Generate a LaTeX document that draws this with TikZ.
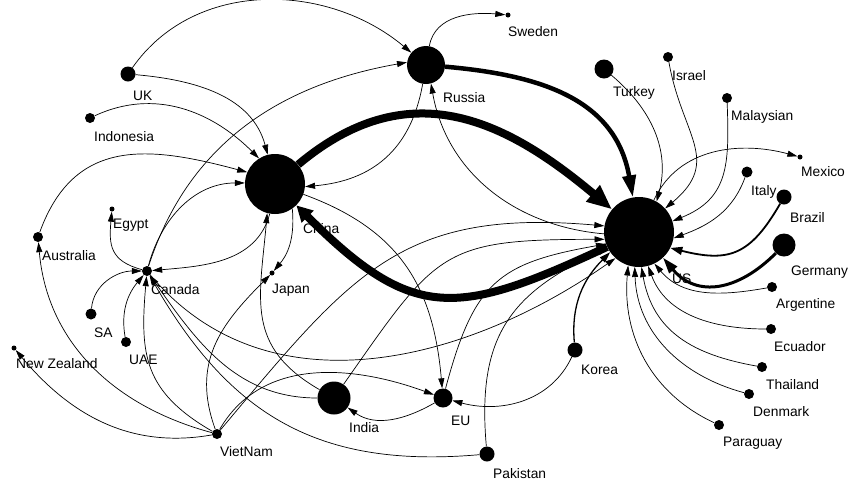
\documentclass[tikz,border=0pt]{standalone}
\usepackage{fontspec}
\setmainfont{Liberation Sans}
\usepackage{tikz}
\usetikzlibrary{arrows.meta}
\colorlet{dotblack}{black}
\colorlet{flowblack}{black}

\begin{document}
\begin{tikzpicture}[x=1pt,y=1pt,
        country/.style={circle,fill=dotblack,inner sep=0pt,minimum size=#1},
        cname/.style={anchor=base west,inner sep=0pt,font=\fontsize{13.8}{16}\selectfont},
        flow/.style={flowblack,line width=0.7pt,-{Triangle[length=10pt,width=6pt]}}]
        \useasboundingbox (0,0) rectangle (848,-483);
        \foreach \n/\x/\y/\d/\lx/\ly/\t in {UK/128/74/15pt/133/100/UK,
            Indonesia/90/118/10pt/94/141.5/Indonesia, Russia/426/65/38pt/443/102/Russia,
            Sweden/508/15/5pt/508/36/Sweden, China/275/184/60pt/303/233/China,
            US/639/232/70pt/672/283/US, Turkey/604/69/19pt/613/96/Turkey,
            Israel/668/57/10pt/672/80/Israel, Malaysian/727/98/10pt/731/120.5/Malaysian,
            Mexico/800/157/5pt/801/176.5/Mexico, Italy/747/172/11pt/751/195/Italy,
            Brazil/784/197/15pt/790/222/Brazil, Germany/784/245/23pt/791/275/Germany,
            Argentine/772/287/10pt/776/308/Argentine, Ecuador/771/329/10pt/774/351.5/Ecuador,
            Thailand/762/367/10pt/766/389.5/Thailand, Denmark/749/394/10pt/753/416.5/Denmark,
            Paraguay/719/425/10pt/723/446.5/Paraguay, Korea/575/350/15pt/581/374/Korea,
            Pakistan/487/454/15pt/493/478/Pakistan, EU/443/398/19pt/451/425/EU,
            India/334/398/33pt/349/432/India, VietNam/217/434/10pt/220/456.5/VietNam,
            Japan/272/273/5pt/272/293.5/Japan, Canada/147/271/10pt/151/294/Canada,
            Egypt/112/209/5pt/113/228.5/Egypt, Australia/38/237/10pt/42/260/Australia,
            SA/91/314/11pt/94/337/SA, UAE/126/342/10pt/129/364/UAE,
            NZ/14/348/5pt/16/368/New Zealand}{
            \node[country=\d] (\n) at (\x,-\y) {};
            \node[cname] (\n-name) at (\lx,-\ly) {\t};
        }
        \foreach \a/\b/\o/\i/\l in {UK/China.104/-5/105/1, Indonesia/China.122/25/135/1,
            Australia/China.157/70/165/1.2, Canada/China.178/75/180/1,
            Canada/Russia.172/72/190/1, UK/Russia.140/55/140/1,
            Russia/Sweden/80/175/1, Russia/China.-5/-100/5/1.1,
            US.183/Russia.-75/175/-80/1, China.-55/Japan/-85/50/1,
            VietNam/Japan/110/225/1.1, China.-100/Canada/-105/5/1,
            China/EU/-20/95/1.1, India.150/China.-105/150/-95/1.2,
            EU/India/210/-35/1, VietNam/EU/60/160/1, Korea/EU/-115/-15/1,
            EU/US.200/75/190/1.3, Pakistan/US.207/95/205/1.2,
            India/US.192/55/180/1.4, VietNam/US.170/50/175/1.2,
            Canada/US.228/-50/215/1, Pakistan/Canada/185/-60/1.1,
            India/Canada/180/-55/1, VietNam/Canada/150/-95/1.2,
            VietNam/Australia/165/-85/1, VietNam/NZ/190/-50/1,
            Canada/Egypt/165/-95/1.3, SA/Canada/85/180/1, UAE/Canada/100/230/1,
            US/Mexico/65/165/1, Turkey/US.60/-40/75/1, Israel/US.42/-80/40/1.3,
            Malaysian/US.18/-88/22/1.2, Italy/US.-10/250/20/1,
            Argentine/US.-64/190/-50/1, Ecuador/US.-75/180/-70/1,
            Thailand/US.-86/170/-80/1.1, Denmark/US.-97/165/-88/1,
            Paraguay/US.-108/155/-95/1}{
            \draw[flow] (\a) to[out=\o,in=\i,looseness=\l] (\b);
        }
        \draw[flow, line width=8pt, -{Triangle[length=25pt,width=20pt]}] (China) to[out=40,in=140,looseness=1.15] (US);
        \draw[flow, line width=8pt, -{Triangle[length=16pt,width=16pt]}] (US) to[out=205,in=-45,looseness=1.35] (China);
        \draw[flow, line width=4.5pt, -{Triangle[length=22pt,width=13pt]}] (Russia) to[out=-5,in=100,looseness=1.1] (US.100);
        \draw[flow, line width=3pt, -{Triangle[length=16pt,width=10pt]}] (Germany) to[out=225,in=-50,looseness=1.2] (US.-47);
        \draw[flow, line width=1.8pt, -{Triangle[length=12pt,width=8pt]}] (Brazil) to[out=240,in=-14,looseness=1.3] (US.-27);
        \draw[flow, line width=1.3pt, -{Triangle[length=11pt,width=7pt]}] (Korea) to[out=95,in=225] (US.215);
    \end{tikzpicture}
\end{document}
